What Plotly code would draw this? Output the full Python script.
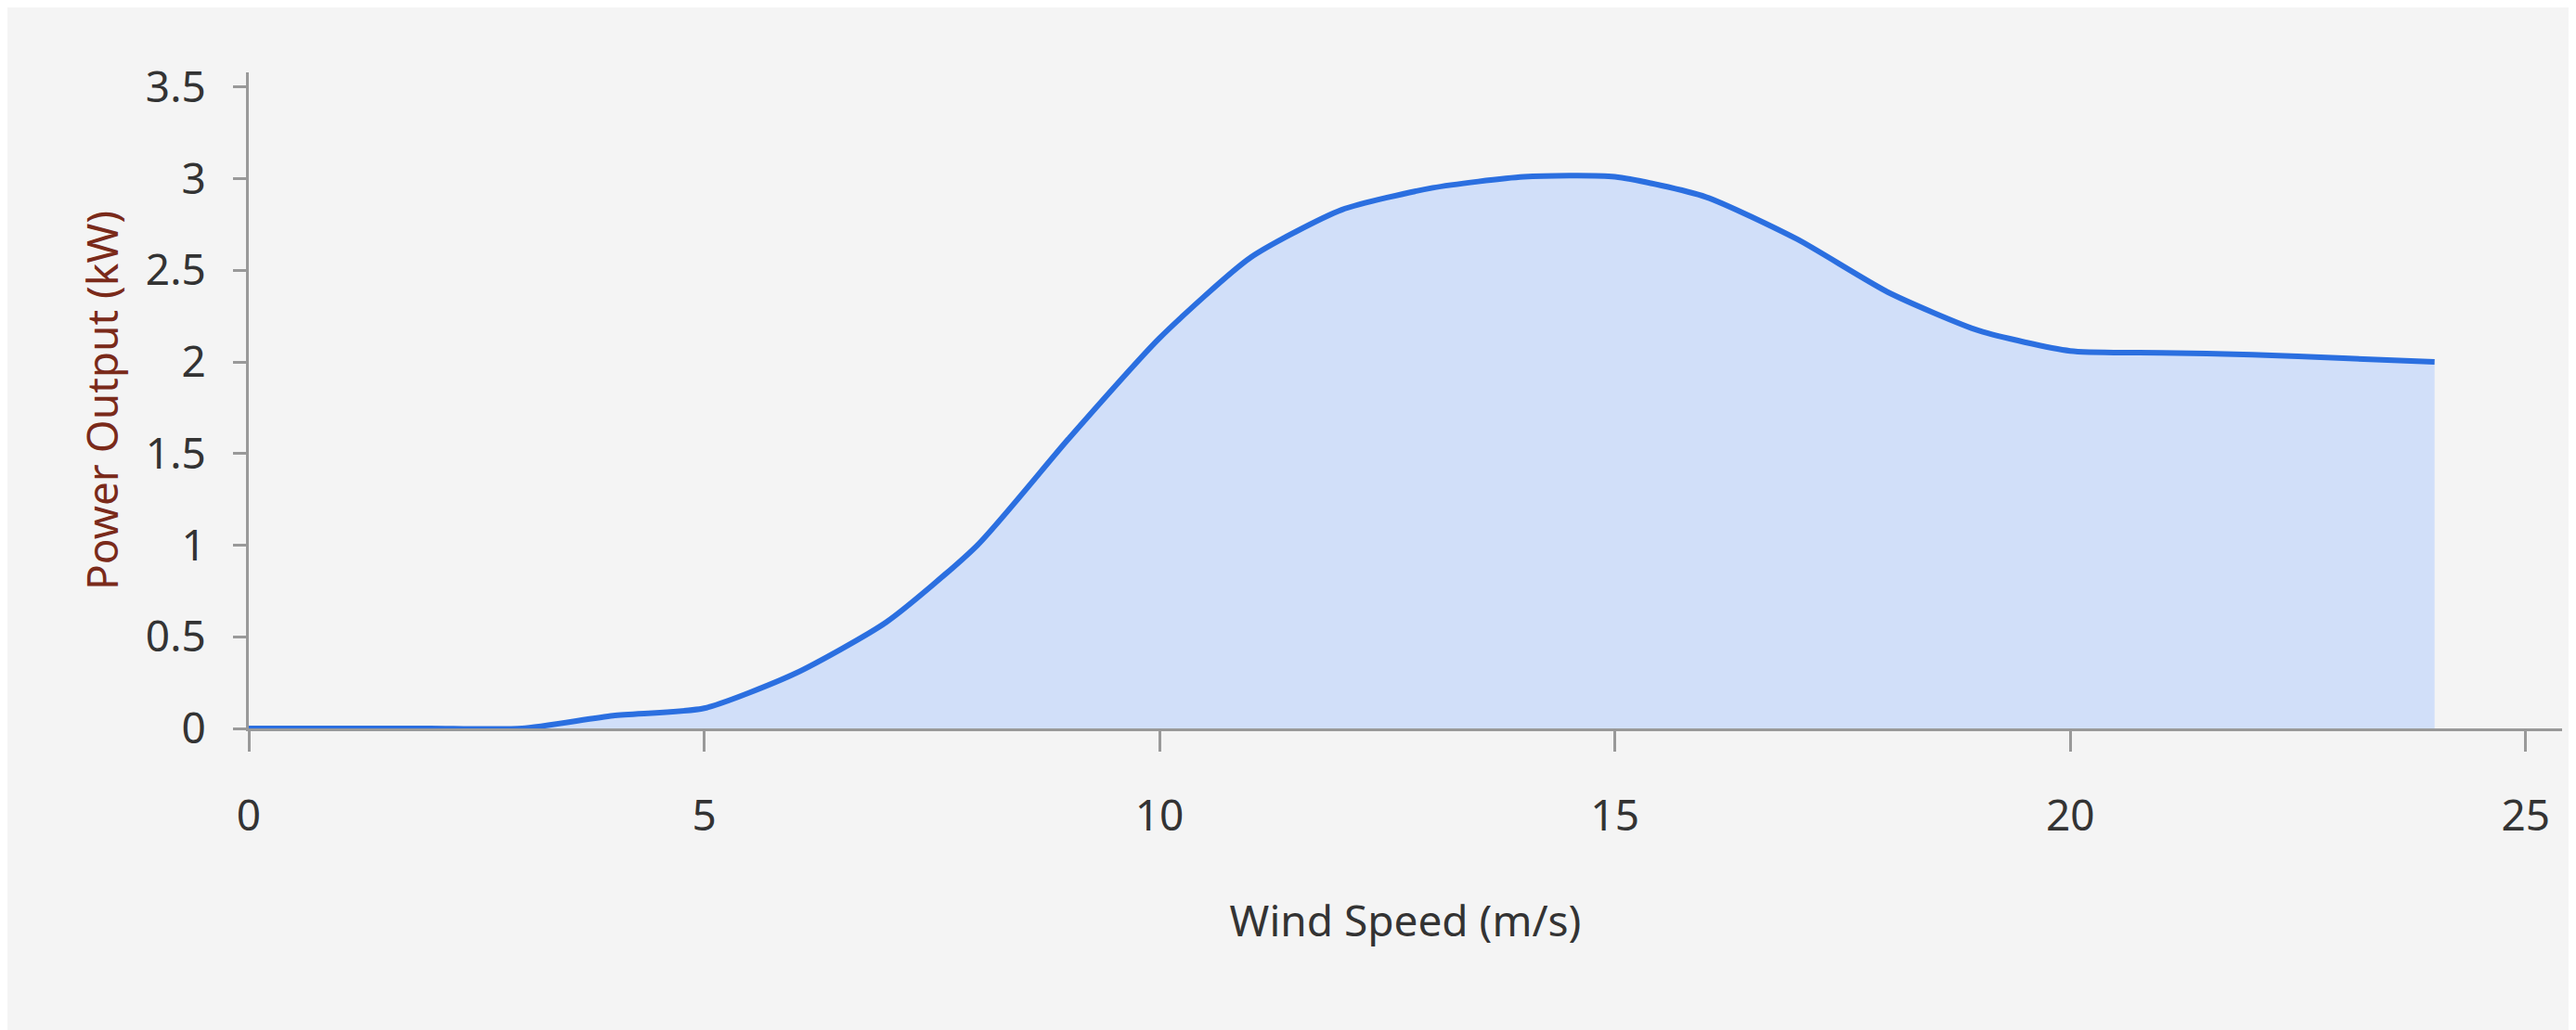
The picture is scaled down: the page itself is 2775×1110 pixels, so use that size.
import plotly.graph_objects as go

wind_speed = list(range(0, 25))
power_kw = [0, 0, 0, 0, 0.07, 0.11, 0.3, 0.58, 1.0, 1.58, 2.13, 2.57, 2.83, 2.95, 3.01,
            3.01, 2.9, 2.67, 2.38, 2.17, 2.06, 2.05, 2.04, 2.02, 2.0]

fig = go.Figure(go.Scatter(
    x=wind_speed, y=power_kw, mode="lines",
    line=dict(color="#2b6fe0", width=6, shape="spline", smoothing=0.6),
    fill="tozeroy", fillcolor="rgba(200,218,250,0.8)"))

font = dict(family="Noto Sans, DejaVu Sans", size=46, color="#333")
fig.update_layout(
    width=2775, height=1110, margin=dict(l=260, r=23, t=70, b=333),
    paper_bgcolor="#f4f4f4", plot_bgcolor="#f4f4f4", showlegend=False, font=font,
    xaxis=dict(range=[0, 25.4], tickvals=[0, 5, 10, 15, 20, 25], showgrid=False, zeroline=False,
               showline=True, linecolor="#999", linewidth=3, ticks="outside", ticklen=22,
               tickcolor="#999", tickwidth=3, ticklabelstandoff=30,
               title=dict(text="Wind Speed (m/s)", standoff=70, font=dict(size=46, color="#333"))),
    yaxis=dict(range=[0, 3.58], tickvals=[0, 0.5, 1, 1.5, 2, 2.5, 3, 3.5],
               ticktext=["0", "0.5", "1", "1.5", "2", "2.5", "3", "3.5"], showgrid=False,
               zeroline=False, showline=True, linecolor="#999", linewidth=3, ticks="outside",
               ticklen=14, tickcolor="#999", tickwidth=3, ticklabelstandoff=20,
               title=dict(text="Power Output (kW)", standoff=15, font=dict(size=46, color="#7a2a1a"))),
)
fig.write_html("out.html")
